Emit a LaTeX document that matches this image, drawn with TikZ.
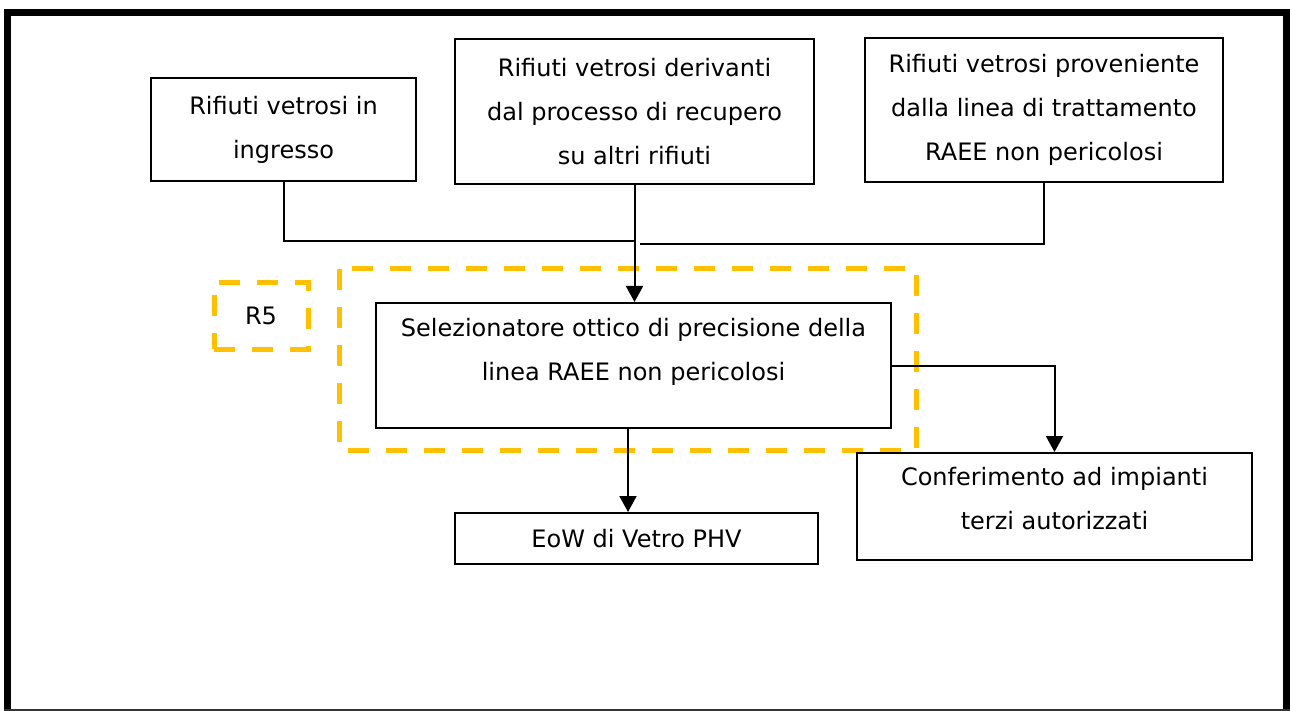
\documentclass[tikz,border=0pt]{standalone}
\usepackage{fontspec}
\setmainfont{DejaVu Sans}
\usepackage{tikz}
\usetikzlibrary{positioning,arrows.meta,calc}
\definecolor{zona}{HTML}{FFC000}

\begin{document}
\begin{tikzpicture}[x=0.5pt, y=-0.5pt,
      box/.style={draw, line width=1pt, align=center, inner sep=0pt,
      font=\fontsize{12}{22}\selectfont},
      zone/.style={draw=zona, line width=2.5pt, dash pattern=on 10.5pt off 8.5pt},
      link/.style={line width=1pt},
      arr/.style={link, -{Triangle[length=8pt, width=8.5pt]}},
    ]
    \useasboundingbox (0,0) rectangle (1290,711);
    % Frame
    \draw[line width=3.5pt] (7.5,711) -- (7.5,12.5) -- (1286.5,12.5) -- (1286.5,711);
    \draw[line width=0.6pt, black!80] (4,710) -- (1290,710);

    \node[box, minimum width=132.5pt, minimum height=51.5pt] (ing) at (283.5,129.5)
      {Rifiuti vetrosi in\\ingresso};
    \node[box, minimum width=179.5pt, minimum height=72.5pt] (rec) at (634.5,111.5)
      {Rifiuti vetrosi derivanti\\dal processo di recupero\\su altri rifiuti};
    \node[box, minimum width=179pt, minimum height=72pt] (raee) at (1044,110)
      {Rifiuti vetrosi proveniente\\dalla linea di trattamento\\RAEE non pericolosi};

    % R5 zone
    \draw[zone] (339,269) rectangle (916,450);
    \node[zone, minimum width=47pt, minimum height=33pt, font=\fontsize{12}{22}\selectfont]
      (rfive) at (261,316) {R5};

    \node[box, minimum width=257.5pt, minimum height=62.5pt, text depth=16pt] (sel)
      at (633.5,365.5)
      {Selezionatore ottico di precisione della\\linea RAEE non pericolosi};
    \node[box, minimum width=181.5pt, minimum height=25.5pt] (eow) at (636.5,538.5)
      {EoW di Vetro PHV};
    \node[box, minimum width=197.5pt, minimum height=53.5pt, text depth=8pt] (conf)
      at (1054.5,506.5)
      {Conferimento ad impianti\\terzi autorizzati};

    \coordinate (joinL) at (634.5,241);
    \coordinate (joinR) at (640,244);
    \draw[link] (ing.south) |- (joinL);
    \draw[link] (raee.south) |- (joinR);
    \draw[arr] (rec.south) -- (rec.south |- sel.north);
    \draw[arr] ([xshift=-2.75pt]sel.south) -- ([xshift=-2.75pt]sel.south |- eow.north);
    \draw[arr] (sel.east) -| (conf.north);
  \end{tikzpicture}
\end{document}
